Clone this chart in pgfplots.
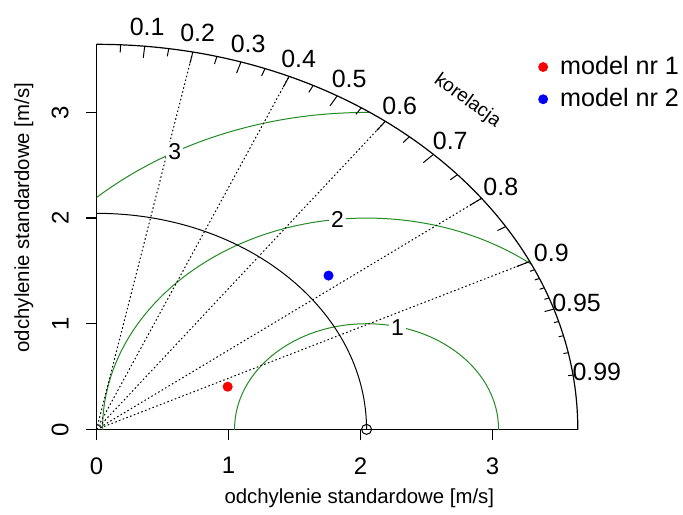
\documentclass[border=0pt]{standalone}
\usepackage{pgfplots}
\pgfplotsset{compat=1.18}
\usepackage{fontspec}
\setmainfont{Liberation Sans}
\definecolor{gcol}{RGB}{34,139,34}
\begin{document}
\begin{tikzpicture}
\pgfmathsetmacro\R{3.645}% outer arc (max sd)
\pgfmathsetmacro\S{2.045}% reference sd
\begin{axis}[
  scale only axis, width=240.95pt, height=192.8pt,
  xmin=0, xmax=\R, ymin=0, ymax=\R,
  clip=false,
  axis x line=bottom, axis y line=left, axis line style={-, line width=0.7pt},
  xtick={0,1,2,3}, ytick={0,1,2,3},
  tick align=outside, major tick length=5.5pt, tick style={black, line width=0.6pt},
  /pgf/number format/assume math mode=true,
  tick label style={font=\fontsize{12}{14}\selectfont},
  xticklabel shift=5pt, yticklabel shift=5pt,
  yticklabel style={rotate=90, anchor=south},
  xlabel={odchylenie standardowe [m/s]},
  ylabel={odchylenie standardowe [m/s]},
  label style={font=\fontsize{10.2}{12}\selectfont},
  xlabel style={at={(axis description cs:0.546,-0.180)}, anchor=center},
  ylabel style={at={(axis description cs:-0.151,0.550)}, anchor=center},
  legend style={draw=none, fill=none, at={(axis description cs:0.917,0.98)}, anchor=north west,
    font=\fontsize{12.6}{14}\selectfont, row sep=1.5pt, inner sep=0pt},
  legend cell align=left,
  legend image code/.code={\fill[#1] (0pt,0pt) circle (2.25pt);
    \path[draw=none, fill=none] (0pt,0pt) -- (6.5pt,0pt);},
]
% fixed frame so the page has the reference's proportions
\path (axis description cs:-0.2007,-0.1997) rectangle (axis description cs:1.2166,1.1151);

% green rms circles around the reference point
\begin{scope}
  \clip (axis cs:0,0) rectangle (axis cs:\R,\R);
  \clip (axis cs:0,0) circle[radius=\R];
  \draw[gcol, line width=0.5pt] (axis cs:\S,0) circle[radius=1]
    (axis cs:\S,0) circle[radius=2] (axis cs:\S,0) circle[radius=3];
\end{scope}

% outer arc and reference sd arc
\begin{scope}
  \clip (axis cs:0,0) rectangle (axis cs:3.75,3.75);
  \draw[line width=0.6pt] (axis cs:0,0) circle[radius=\R];
  \draw[line width=0.5pt] (axis cs:0,0) circle[radius=\S];
\end{scope}

% correlation lines
\pgfplotsinvokeforeach{0.2,0.4,0.6,0.8,0.9}{
  \draw[line width=0.5pt, dash pattern=on 0.8pt off 1.2pt]
    (axis cs:0,0) -- (axis cs:{#1*\R},{sqrt(1-#1*#1)*\R});
}
% ticks on the outer arc
\pgfplotsinvokeforeach{0.1,0.2,0.3,0.4,0.5,0.6,0.7,0.8,0.9}{
  \draw[line width=0.5pt] (axis cs:{#1*\R},{sqrt(1-#1*#1)*\R})
    -- (axis cs:{0.97*#1*\R},{0.97*sqrt(1-#1*#1)*\R});
}
\pgfplotsinvokeforeach{0.05,0.15,0.25,0.35,0.45,0.55,0.65,0.75,0.85,0.95}{
  \draw[line width=0.5pt] (axis cs:{#1*\R},{sqrt(1-#1*#1)*\R})
    -- (axis cs:{0.98*#1*\R},{0.98*sqrt(1-#1*#1)*\R});
}
\pgfplotsinvokeforeach{0.91,0.92,0.93,0.94,0.96,0.97,0.98,0.99}{
  \draw[line width=0.5pt] (axis cs:{#1*\R},{sqrt(1-#1*#1)*\R})
    -- (axis cs:{0.99*#1*\R},{0.99*sqrt(1-#1*#1)*\R});
}
% correlation labels
\pgfplotsinvokeforeach{0.1,0.2,0.3,0.4,0.5,0.6,0.7,0.8,0.9,0.95,0.99}{
  \node[font=\fontsize{12.5}{14}\selectfont, inner sep=0pt]
    at (axis cs:{1.05*#1*\R},{1.05*sqrt(1-#1*#1)*\R}) {#1};
}
\node[font=\fontsize{9.6}{11}\selectfont, rotate=-36, inner sep=0pt] at (axis cs:2.809,3.11) {korelacja};

% labels of the green circles
\node[font=\fontsize{11.5}{13}\selectfont, fill=white, inner sep=1pt] at (axis cs:2.28,0.964) {1};
\node[font=\fontsize{11.5}{13}\selectfont, fill=white, inner sep=1pt] at (axis cs:1.825,1.985) {2};
\node[font=\fontsize{11.5}{13}\selectfont, fill=white, inner sep=1pt] at (axis cs:0.592,2.628) {3};

% reference point
\addplot[only marks, mark=o, mark size=2.5pt, black, mark options={line width=0.5pt}, forget plot]
  coordinates {(2.045,0)};
% models
\addplot[only marks, mark=*, mark size=2.3pt, color=red] coordinates {(0.993,0.404)};
\addlegendentry{model nr 1}
\addplot[only marks, mark=*, mark size=2.3pt, color=blue] coordinates {(1.757,1.456)};
\addlegendentry{model nr 2}
\end{axis}
\end{tikzpicture}
\end{document}
